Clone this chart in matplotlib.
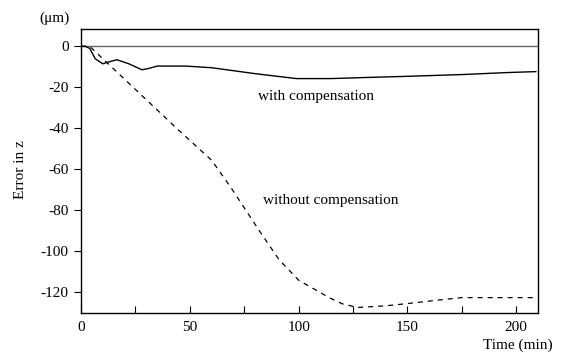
import matplotlib
matplotlib.use("Agg")
import matplotlib.pyplot as plt
from matplotlib.ticker import MultipleLocator

plt.rcParams['font.family'] = ['Liberation Serif', 'DejaVu Serif']
plt.rcParams['axes.unicode_minus'] = False

# with compensation (solid)
t_with = [0, 2, 4, 6.5, 10, 13, 16.5, 22, 28, 31, 35, 48, 60, 80, 99, 115, 130, 150, 176, 195, 209]
e_with = [0, 0, -1, -6, -8.5, -7.5, -6.5, -8.5, -11.4, -10.8, -9.6, -9.6, -10.4, -13.3, -15.7, -15.7, -15.2, -14.6, -13.7, -12.8, -12.3]

# without compensation (dashed)
t_without = [0, 4, 15, 30, 45, 60, 69, 82, 91, 100, 114, 120, 127, 140, 150, 165, 175, 190, 209]
e_without = [0, 0, -11, -26, -41, -55.5, -69, -90, -104, -114, -122.5, -125.5, -127.3, -126.5, -125.4, -123.6, -122.5, -122.5, -122.5]

xticks = [0, 50, 100, 150, 200]
yticks = [0, -20, -40, -60, -80, -100, -120]

fig = plt.figure(figsize=(5.71, 3.53), dpi=100)
ax = fig.add_axes([0.1419, 0.1133, 0.8003, 0.8047])

ax.axhline(0, color='#666666', lw=1.0, zorder=1)
ax.plot(t_with, e_with, color='black', lw=1.0, zorder=3)
ax.plot(t_without, e_without, color='black', lw=0.9, dashes=(4, 4), zorder=3)

ax.set_xlim(0, 210)
ax.set_ylim(-130, 8.5)
ax.set_xticks(xticks)
ax.set_xticklabels([str(v) for v in xticks])
ax.xaxis.set_minor_locator(MultipleLocator(25))
ax.set_yticks(yticks)
ax.set_yticklabels([str(v) for v in yticks])
ax.tick_params(axis='x', which='both', direction='in', length=5, width=0.8, labelsize=11, pad=6)
ax.tick_params(axis='y', direction='out', length=5, width=0.8, labelsize=11, pad=4)
for s in ax.spines.values():
    s.set_linewidth(1.0)

ax.text(81.5, -24.6, 'with compensation', fontsize=11, ha='left', va='center')
ax.text(83.5, -75, 'without compensation', fontsize=11, ha='left', va='center')

fig.text(55 / 571, 1 - 18 / 353, '(\u03bcm)', fontsize=11, ha='center', va='center')
fig.text(20 / 571, 1 - 170 / 353, 'Error in z', fontsize=11, ha='center', va='center', rotation=90)
fig.text(553 / 571, 1 - 345 / 353, 'Time (min)', fontsize=11, ha='right', va='center')

fig.savefig('out.png', dpi=100)
